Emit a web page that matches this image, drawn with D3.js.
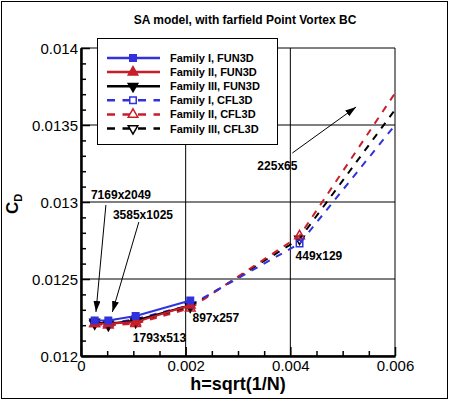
<!DOCTYPE html>
<html>
<head>
<meta charset="utf-8">
<script src="https://cdn.jsdelivr.net/npm/d3@7"></script>
<style>
  body { margin: 0; background: #fff; }
  text { font-family: "Liberation Sans", Arial, Helvetica, sans-serif; }
</style>
</head>
<body>
<svg id="chart" width="450" height="401"></svg>
<script>
// grid names and h = sqrt(1/N) for each level
const meshes = ['7169x2049', '3585x1025', '1793x513', '897x257', '449x129', '225x65'];
const hValues = [0.000261, 0.000522, 0.001044, 0.002088, 0.004176, 0.00835];

// drag coefficient, FUN3D only has the four finest grids
const fun3dI = [0.01223, 0.01223, 0.01226, 0.01236];
const fun3dII = [0.01221, 0.01221, 0.01222, 0.01233];
const fun3dIII = [0.01222, 0.01221, 0.01223, 0.01233];
const cfl3dI = [0.01222, 0.01221, 0.01224, 0.01233, 0.01273, 0.01449];
const cfl3dII = [0.01221, 0.01220, 0.01221, 0.01231, 0.01278, 0.01490];
const cfl3dIII = [0.01221, 0.01220, 0.01222, 0.01232, 0.01276, 0.01468];

const seriesNames = ['Family I, FUN3D', 'Family II, FUN3D', 'Family III, FUN3D',
  'Family I, CFL3D', 'Family II, CFL3D', 'Family III, CFL3D'];

const xTicks = [0, 0.002, 0.004, 0.006];
const xTickLabels = ['0', '0.002', '0.004', '0.006'];
const yTicks = [0.012, 0.0125, 0.013, 0.0135, 0.014];
const yTickLabels = ['0.012', '0.0125', '0.013', '0.0135', '0.014'];

// annotation text anchors and arrows, in data units
const labelPos = [
  [0.00019, 0.013019], [0.00061, 0.012890], [0.00099, 0.012091],
  [0.00213, 0.012221], [0.00410, 0.012623], [0.00337, 0.013208],
];
const arrows = [
  [[0.000476, 0.012981], [0.000286, 0.012286]],
  [[0.001105, 0.012870], [0.000600, 0.012286]],
  [[0.004038, 0.013318], [0.005257, 0.013617]],
];

const blue = '#3232dc';
const red = '#c81e2a';
const black = '#000';

const series = [
  { name: seriesNames[5], values: cfl3dIII, color: black, dash: true, sym: 'down', fill: false },
  { name: seriesNames[4], values: cfl3dII, color: red, dash: true, sym: 'up', fill: false },
  { name: seriesNames[3], values: cfl3dI, color: blue, dash: true, sym: 'square', fill: false },
  { name: seriesNames[2], values: fun3dIII, color: black, dash: false, sym: 'down', fill: true },
  { name: seriesNames[1], values: fun3dII, color: red, dash: false, sym: 'up', fill: true },
  { name: seriesNames[0], values: fun3dI, color: blue, dash: false, sym: 'square', fill: true },
];

const svg = d3.select('#chart');
const plotLeft = 81;
const plotRight = 395;
const plotTop = 48;
const plotBottom = 356;

const x = d3.scaleLinear().domain([0, 0.006]).range([plotLeft, plotRight]);
const y = d3.scaleLinear().domain([0.012, 0.014]).range([plotBottom, plotTop]);

// frame round the whole picture
svg.append('rect')
  .attr('x', 1.5).attr('y', 1.5).attr('width', 446).attr('height', 397)
  .attr('fill', '#fff').attr('stroke', '#000').attr('stroke-width', 1);

svg.append('text')
  .attr('x', 245).attr('y', 24)
  .attr('text-anchor', 'middle')
  .attr('font-size', '12px')
  .attr('font-weight', 'bold')
  .text('SA model, with farfield Point Vortex BC');

const defs = svg.append('defs');
defs.append('clipPath').attr('id', 'plotClip')
  .append('rect')
  .attr('x', plotLeft).attr('y', plotTop)
  .attr('width', plotRight - plotLeft).attr('height', plotBottom - plotTop);
defs.append('marker')
  .attr('id', 'head')
  .attr('markerUnits', 'userSpaceOnUse')
  .attr('markerWidth', 12).attr('markerHeight', 8)
  .attr('refX', 11).attr('refY', 3.5)
  .attr('orient', 'auto')
  .append('path')
  .attr('d', 'M0,0L11,3.5L0,7Z')
  .attr('fill', '#000');

// grid lines at the major ticks
const grid = svg.append('g');
grid.selectAll('line.vx')
  .data(xTicks)
  .enter().append('line')
  .attr('x1', d => x(d)).attr('x2', d => x(d))
  .attr('y1', plotTop).attr('y2', plotBottom)
  .attr('stroke', '#000').attr('stroke-width', 1);
grid.selectAll('line.hy')
  .data(yTicks)
  .enter().append('line')
  .attr('x1', plotLeft).attr('x2', plotRight)
  .attr('y1', d => y(d)).attr('y2', d => y(d))
  .attr('stroke', '#000').attr('stroke-width', 1);

// minor ticks pointing into the plot
const xMinor = d3.range(0, 0.0060001, 0.0005).filter(d => !xTicks.some(t => Math.abs(t - d) < 1e-9));
const yMinor = d3.range(0.012, 0.0140001, 0.0001).filter(d => !yTicks.some(t => Math.abs(t - d) < 1e-9));

const xAxis = svg.append('g')
  .attr('transform', `translate(0,${plotBottom})`)
  .call(d3.axisBottom(x).tickValues(xTicks).tickFormat((d, i) => xTickLabels[i])
    .tickSize(-9).tickSizeOuter(0).tickPadding(4));
xAxis.append('g')
  .call(d3.axisBottom(x).tickValues(xMinor).tickFormat('').tickSize(-5).tickSizeOuter(0));

const yAxis = svg.append('g')
  .attr('transform', `translate(${plotLeft},0)`)
  .call(d3.axisLeft(y).tickValues(yTicks).tickFormat((d, i) => yTickLabels[i])
    .tickSize(-9).tickSizeOuter(0).tickPadding(3));
yAxis.append('g')
  .call(d3.axisLeft(y).tickValues(yMinor).tickFormat('').tickSize(-5).tickSizeOuter(0));

xAxis.select('g').select('.domain').remove();
yAxis.select('g').select('.domain').remove();
svg.selectAll('.domain').attr('stroke', '#000').attr('stroke-width', 2);
svg.selectAll('.tick line').attr('stroke', '#000').attr('stroke-width', 1.5);
svg.selectAll('.tick text')
  .attr('fill', '#000')
  .attr('font-size', '15px')
  .attr('font-family', '"Liberation Sans", Arial, sans-serif');
yAxis.selectAll('.tick text').attr('dy', '0.36em');
xAxis.selectAll('.tick text').attr('dy', '0.72em');

svg.append('text')
  .attr('x', 238).attr('y', 390)
  .attr('text-anchor', 'middle')
  .attr('font-size', '18px')
  .attr('font-weight', 'bold')
  .text('h=sqrt(1/N)');

const yTitle = svg.append('text')
  .attr('transform', 'translate(18,204) rotate(-90)')
  .attr('text-anchor', 'middle')
  .attr('font-size', '17px')
  .attr('font-weight', 'bold');
yTitle.append('tspan').text('C');
yTitle.append('tspan').attr('font-size', '11px').attr('dy', 4).text('D');

function symbolPath(sym) {
  if (sym === 'square') return d3.symbol(d3.symbolSquare, 42)();
  return d3.symbol(d3.symbolTriangle, 40)();
}

// data lines and markers
const plot = svg.append('g').attr('clip-path', 'url(#plotClip)');
const line = d3.line()
  .x((d, i) => x(hValues[i]))
  .y(d => y(d));

series.forEach((s) => {
  plot.append('path')
    .datum(s.values)
    .attr('d', line)
    .attr('fill', 'none')
    .attr('stroke', s.color)
    .attr('stroke-width', 2)
    .attr('stroke-dasharray', s.dash ? '7,7' : null);

  plot.selectAll(null)
    .data(s.values)
    .enter().append('path')
    .attr('d', symbolPath(s.sym))
    .attr('transform', (d, i) => `translate(${x(hValues[i])},${y(d)})${s.sym === 'down' ? ' rotate(180)' : ''}`)
    .attr('fill', s.fill ? s.color : 'none')
    .attr('stroke', s.color)
    .attr('stroke-width', 1.5);
});

// mesh labels and arrows
svg.append('g').selectAll('text')
  .data(meshes)
  .enter().append('text')
  .attr('x', (d, i) => x(labelPos[i][0]))
  .attr('y', (d, i) => y(labelPos[i][1]))
  .attr('font-size', '12px')
  .attr('font-weight', 'bold')
  .text(d => d);

svg.append('g').selectAll('line')
  .data(arrows)
  .enter().append('line')
  .attr('x1', d => x(d[0][0])).attr('y1', d => y(d[0][1]))
  .attr('x2', d => x(d[1][0])).attr('y2', d => y(d[1][1]))
  .attr('stroke', '#000').attr('stroke-width', 1)
  .attr('marker-end', 'url(#head)');

// legend
const legend = svg.append('g');
legend.append('rect')
  .attr('x', 97.5).attr('y', 38.5).attr('width', 180).attr('height', 106)
  .attr('fill', '#fff').attr('stroke', '#000').attr('stroke-width', 1);

const legendOrder = series.slice().reverse();
const row = legend.selectAll('g.row')
  .data(legendOrder)
  .enter().append('g')
  .attr('transform', (d, i) => `translate(0,${58 + i * 14.1})`);

row.append('line')
  .attr('x1', 107).attr('x2', 160).attr('y1', 0).attr('y2', 0)
  .attr('stroke', d => d.color)
  .attr('stroke-width', 2.5)
  .attr('stroke-dasharray', d => (d.dash ? '8,7.5' : null));

row.append('path')
  .attr('d', d => symbolPath(d.sym))
  .attr('transform', d => `translate(133,0)${d.sym === 'down' ? ' rotate(180)' : ''}`)
  .attr('fill', d => (d.fill ? d.color : '#fff'))
  .attr('stroke', d => d.color)
  .attr('stroke-width', 1.5);

row.append('text')
  .attr('x', 170).attr('y', 4)
  .attr('font-size', '11px')
  .attr('font-weight', 'bold')
  .text(d => d.name);
</script>
</body>
</html>
